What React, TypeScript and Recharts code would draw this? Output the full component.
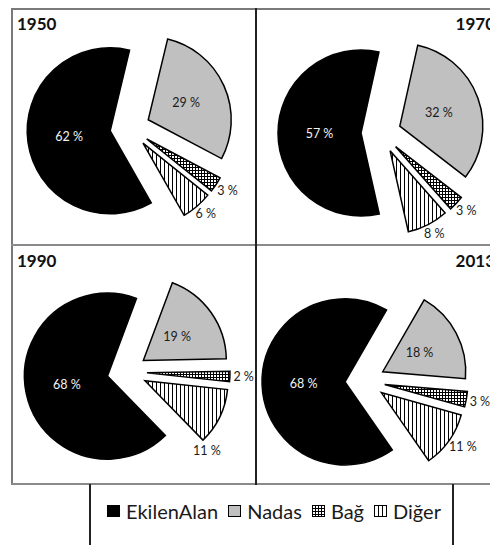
import { PieChart, Pie, Cell } from 'recharts';

const categories = ['EkilenAlan', 'Nadas', 'Bağ', 'Diğer'];
const shares1950 = [62, 29, 3, 6];
const shares1970 = [57, 32, 3, 8];
const shares1990 = [68, 19, 2, 11];
const shares2013 = [68, 18, 3, 11];

const FILLS = ['#000000', '#c0c0c0', 'url(#pat-grid)', 'url(#pat-vline)'];
const RADIUS = 83;
const EXPLODE = 20;
const FONT = 'Lato, "Open Sans", sans-serif';

// nadasAt = compass angle (deg, clockwise from 12 o'clock) where the Nadas slice begins
// nudge = manual shift for an outside label that Excel moved ("best fit")
const PANELS = [
  { year: '1950', values: shares1950, left: 12, top: 8, w: 244, h: 237, cx: 118, cy: 120, nadasAt: 13.5, align: 'left', nudge: {} as Record<number, [number, number]> },
  { year: '1970', values: shares1970, left: 256, top: 8, w: 244, h: 237, cx: 125, cy: 125, nadasAt: 12.5, align: 'right', nudge: {} as Record<number, [number, number]> },
  { year: '1990', values: shares1990, left: 12, top: 245, w: 244, h: 239, cx: 115, cy: 127, nadasAt: 20.5, align: 'left', nudge: { 3: [-28, 29] } as Record<number, [number, number]> },
  { year: '2013', values: shares2013, left: 256, top: 245, w: 244, h: 239, cx: 109, cy: 136, nadasAt: 30, align: 'right', nudge: {} as Record<number, [number, number]> },
];

function Patterns() {
  return (
    <svg width={0} height={0} style={{ position: 'absolute' }}>
      <defs>
        <pattern id="pat-grid" patternUnits="userSpaceOnUse" width={3} height={3}>
          <rect width={3} height={3} fill="#fff" />
          <path d="M0 0.5H3M0.5 0V3" stroke="#000" strokeWidth={1} />
        </pattern>
        <pattern id="pat-vline" patternUnits="userSpaceOnUse" width={4} height={4}>
          <rect width={4} height={4} fill="#fff" />
          <path d="M0.5 0V4" stroke="#000" strokeWidth={1} />
        </pattern>
      </defs>
    </svg>
  );
}

function makeLabel(slice: number, ox: number, oy: number, nudge?: [number, number]) {
  return (props: any) => {
    const { index, midAngle, percent, value } = props;
    if (index !== slice) return null;
    const rad = Math.PI / 180;
    const dx = Math.cos(-midAngle * rad);
    const dy = Math.sin(-midAngle * rad);
    const text = `${value} %`;
    let x: number;
    let y: number;
    if (percent >= 0.15) {
      x = ox + dx * RADIUS * 0.5;
      y = oy + dy * RADIUS * 0.5;
    } else {
      const w = text.length * 6.5;
      const h = 12;
      x = ox + dx * (RADIUS + 4) + (dx * w) / 2;
      y = oy + dy * (RADIUS + 4) + (dy * h) / 2;
    }
    if (nudge) {
      x += nudge[0];
      y += nudge[1];
    }
    return (
      <text
        x={x}
        y={y}
        textAnchor="middle"
        dominantBaseline="central"
        fontFamily={FONT}
        fontSize={12.5}
        fill={index === 0 ? '#f4f4f4' : '#1a1a1a'}
      >
        {text}
      </text>
    );
  };
}

function YearPie({ panel }: { panel: (typeof PANELS)[number] }) {
  const data = categories.map((name, i) => ({ name, value: panel.values[i] }));
  const total = panel.values.reduce((s, v) => s + v, 0);
  const ekStart = panel.nadasAt - (360 * panel.values[0]) / total;
  const startAngle = 90 - ekStart;
  let cum = 0;
  const offsets = panel.values.map((v) => {
    const mid = ekStart + (360 * (cum + v / 2)) / total;
    cum += v;
    const r = (mid * Math.PI) / 180;
    return { x: panel.cx + EXPLODE * Math.sin(r), y: panel.cy - EXPLODE * Math.cos(r) };
  });

  return (
    <div style={{ position: 'absolute', left: panel.left, top: panel.top }}>
      <PieChart width={panel.w} height={panel.h} margin={{ top: 0, right: 0, bottom: 0, left: 0 }}>
        {offsets.map((o, slice) => (
          <Pie
            key={slice}
            data={data}
            dataKey="value"
            cx={o.x}
            cy={o.y}
            outerRadius={RADIUS}
            startAngle={startAngle}
            endAngle={startAngle - 360}
            labelLine={false}
            label={makeLabel(slice, o.x, o.y, panel.nudge[slice])}
            isAnimationActive={false}
          >
            {data.map((_, i) => (
              <Cell
                key={i}
                fill={i === slice ? FILLS[i] : 'none'}
                stroke={i === slice ? '#000' : 'none'}
                strokeWidth={i === slice ? 1.5 : 0}
              />
            ))}
          </Pie>
        ))}
      </PieChart>
      <div
        style={{
          position: 'absolute',
          top: 7,
          left: panel.align === 'left' ? 5 : undefined,
          right: panel.align === 'right' ? 5 : undefined,
          fontFamily: FONT,
          fontWeight: 700,
          fontSize: 17,
          lineHeight: '17px',
          color: '#111',
        }}
      >
        {panel.year}
      </div>
    </div>
  );
}

function Swatch({ fill }: { fill: string }) {
  return (
    <svg width={13} height={12} style={{ display: 'block', marginRight: 6 }}>
      <rect x={0.5} y={0.5} width={12} height={11} fill={fill} stroke="#000" strokeWidth={1} />
    </svg>
  );
}

const line = (s: React.CSSProperties): React.CSSProperties => ({ position: 'absolute', ...s });

export default function App() {
  return (
    <div
      style={{
        position: 'absolute',
        left: 0,
        top: 0,
        width: 490,
        height: 545,
        overflow: 'hidden',
        background: '#fff',
      }}
    >
      <Patterns />
      {PANELS.map((p) => (
        <YearPie key={p.year} panel={p} />
      ))}
      <div style={line({ left: 11, top: 8, width: 500, height: 1.5, background: '#7a7a7a' })} />
      <div style={line({ left: 11, top: 8, width: 1.5, height: 477, background: '#7a7a7a' })} />
      <div style={line({ left: 11, top: 244, width: 500, height: 1.5, background: '#8a8a8a' })} />
      <div style={line({ left: 11, top: 483, width: 500, height: 1.5, background: '#8a8a8a' })} />
      <div style={line({ left: 255, top: 8, width: 2, height: 477, background: '#222' })} />
      <div style={line({ left: 89, top: 484, width: 2, height: 70, background: '#222' })} />
      <div style={line({ left: 452, top: 484, width: 2, height: 70, background: '#222' })} />
      <div
        style={{
          position: 'absolute',
          left: 107,
          top: 501,
          height: 20,
          display: 'flex',
          alignItems: 'center',
          fontFamily: FONT,
          fontSize: 20,
          lineHeight: '20px',
          color: '#1a1a1a',
          whiteSpace: 'nowrap',
        }}
      >
        {categories.map((c, i) => (
          <div key={c} style={{ display: 'flex', alignItems: 'center', marginRight: 10 }}>
            <Swatch fill={FILLS[i]} />
            <span>{c}</span>
          </div>
        ))}
      </div>
    </div>
  );
}
